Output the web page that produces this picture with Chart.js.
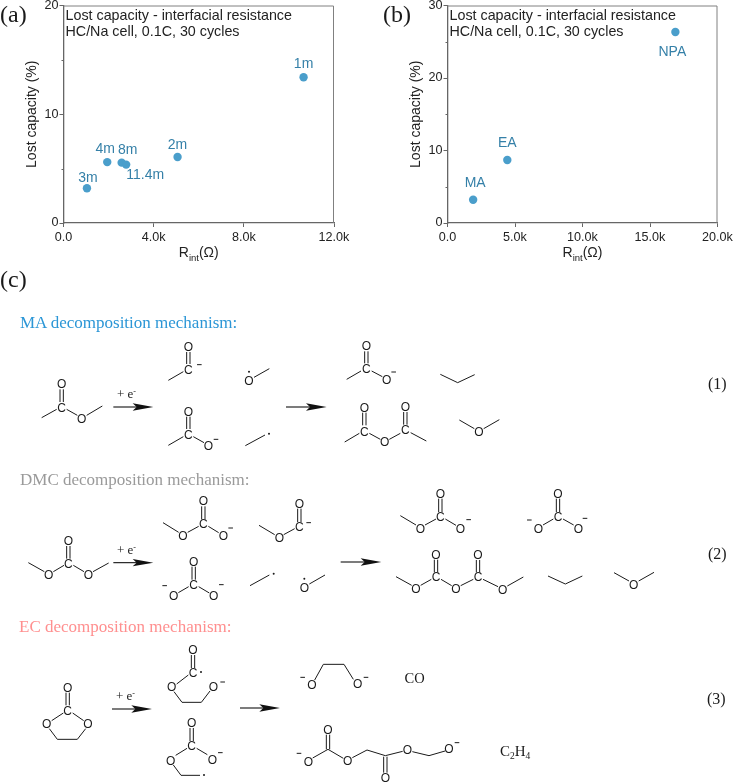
<!DOCTYPE html>
<html>
<head>
<meta charset="utf-8">
<title>Lost capacity - interfacial resistance</title>
<script src="https://cdn.jsdelivr.net/npm/chart.js@4"></script>
<style>
  html, body { margin: 0; padding: 0; background: #fff; }
  #page { position: relative; width: 734px; height: 782px; overflow: hidden; }
  canvas { position: absolute; top: 0; }
  #scheme { position: absolute; left: 0; top: 0; }
  #scheme text { font-family: "Liberation Sans", Arial, sans-serif; fill: #1a1a1a; }
  #scheme text.serif { font-family: "Liberation Serif", "Times New Roman", serif; }
</style>
</head>
<body>
<div id="page">
  <canvas id="chartA" width="367" height="270" style="left:0"></canvas>
  <canvas id="chartB" width="367" height="270" style="left:367px"></canvas>
  <svg id="scheme" width="734" height="782" xmlns="http://www.w3.org/2000/svg"></svg>
</div>
<script>
// panel (a)
const labelsA = ["1m", "2m", "3m", "4m", "8m", "11.4m"];
const rintA = [10650, 5060, 1040, 1940, 2580, 2780];
const lostA = [13.4, 6.07, 3.2, 5.6, 5.55, 5.37];
const xTicksA = [0, 4000, 8000, 12000];
const yTicksA = [0, 10, 20];

// panel (b)
const labelsB = ["MA", "EA", "NPA"];
const rintB = [1900, 4430, 16880];
const lostB = [3.2, 8.7, 26.35];
const xTicksB = [0, 5000, 10000, 15000, 20000];
const yTicksB = [0, 10, 20, 30];

const BLUE = "#4a9ecb";
const LABEL_BLUE = "#3580a8";
const AXIS = "#666666";
const TEXT = "#222222";
const SANS = '"Liberation Sans", Arial, sans-serif';

// label offsets from the point, one per point
const offsetsA = [[0, -13], [0, -12], [1, -10], [-2, -13], [6, -13], [19, 11]];
const offsetsB = [[2, -17], [0, -17], [-3, 20]];

// frame, minor ticks, point labels and the Rint title
const decorations = {
  id: "decorations",
  afterDraw(chart, args, opts) {
    const { ctx, chartArea: a, scales } = chart;
    ctx.save();
    ctx.strokeStyle = "#808080";
    ctx.lineWidth = 1;
    ctx.beginPath();
    ctx.moveTo(a.left, a.top + 0.5);
    ctx.lineTo(a.right - 0.5, a.top + 0.5);
    ctx.lineTo(a.right - 0.5, a.bottom);
    ctx.stroke();

    ctx.strokeStyle = AXIS;
    ctx.beginPath();
    opts.minorY.forEach(v => {
      const y = Math.round(scales.y.getPixelForValue(v)) + 0.5;
      ctx.moveTo(a.left, y);
      ctx.lineTo(a.left - 2, y);
    });
    ctx.stroke();

    ctx.fillStyle = TEXT;
    ctx.font = "14.3px " + SANS;
    ctx.textBaseline = "alphabetic";
    ctx.textAlign = "left";
    ctx.fillText("Lost capacity - interfacial resistance", a.left + 2, 20);
    ctx.fillText("HC/Na cell, 0.1C, 30 cycles", a.left + 2, 36);

    ctx.font = "14px " + SANS;
    ctx.textAlign = "center";
    ctx.textBaseline = "middle";
    ctx.fillStyle = LABEL_BLUE;
    const meta = chart.getDatasetMeta(0);
    meta.data.forEach((pt, i) => {
      ctx.fillText(opts.labels[i], pt.x + opts.offsets[i][0], pt.y + opts.offsets[i][1]);
    });

    // x axis title, has a subscript so it is done by hand
    const cx = (a.left + a.right) / 2;
    const by = a.bottom + 34;
    ctx.fillStyle = TEXT;
    ctx.textAlign = "left";
    ctx.textBaseline = "alphabetic";
    ctx.font = "14px " + SANS;
    const rW = ctx.measureText("R").width;
    const oW = ctx.measureText("(Ω)").width;
    ctx.font = "9.5px " + SANS;
    const iW = ctx.measureText("int").width;
    let x = cx - (rW + iW + oW) / 2;
    ctx.font = "14px " + SANS;
    ctx.fillText("R", x, by);
    ctx.font = "9.5px " + SANS;
    ctx.fillText("int", x + rW, by + 4);
    ctx.font = "14px " + SANS;
    ctx.fillText("(Ω)", x + rW + iW, by);
    ctx.restore();
  }
};

function fmtK(v) {
  return v === 0 ? "0.0" : (v / 1000).toFixed(1) + "k";
}

function makeChart(id, xs, ys, labels, offsets, xTicks, yTicks, minorY, pad) {
  new Chart(document.getElementById(id), {
    type: "scatter",
    data: {
      datasets: [{
        data: xs.map((x, i) => ({ x: x, y: ys[i] })),
        backgroundColor: BLUE,
        borderColor: BLUE,
        borderWidth: 0,
        pointRadius: 4.2,
        pointHoverRadius: 4.2
      }]
    },
    options: {
      responsive: false,
      animation: false,
      layout: { padding: pad },
      plugins: {
        legend: { display: false },
        tooltip: { enabled: false },
        decorations: { labels: labels, offsets: offsets, minorY: minorY }
      },
      scales: {
        x: {
          type: "linear",
          min: xTicks[0],
          max: xTicks[xTicks.length - 1],
          afterBuildTicks: s => { s.ticks = xTicks.map(v => ({ value: v })); },
          afterFit: s => { s.height = 47; s.paddingLeft = 0; s.paddingRight = 0; },
          grid: { drawOnChartArea: false, tickLength: 4, tickColor: AXIS, tickWidth: 1 },
          border: { color: AXIS, width: 1.3 },
          ticks: {
            callback: fmtK,
            color: TEXT,
            font: { family: SANS, size: 12.6 },
            padding: 3,
            maxRotation: 0,
            autoSkip: false
          }
        },
        y: {
          type: "linear",
          min: yTicks[0],
          max: yTicks[yTicks.length - 1],
          afterBuildTicks: s => { s.ticks = yTicks.map(v => ({ value: v })); },
          afterFit: s => { s.width = pad.axis; s.paddingTop = 0; s.paddingBottom = 0; },
          title: {
            display: true,
            text: "Lost capacity (%)",
            color: TEXT,
            font: { family: SANS, size: 14 },
            padding: 0
          },
          grid: { drawOnChartArea: false, tickLength: 4, tickColor: AXIS, tickWidth: 1 },
          border: { color: AXIS, width: 1.3 },
          ticks: {
            color: TEXT,
            font: { family: SANS, size: 12.6 },
            padding: 1
          }
        }
      }
    },
    plugins: [decorations]
  });
}

makeChart("chartA", rintA, lostA, labelsA, offsetsA, xTicksA, yTicksA, [5, 15],
  { left: 23.6, right: 33, top: 5.5, bottom: 0, axis: 39.9 });
makeChart("chartB", rintB, lostB, labelsB, offsetsB, xTicksB, yTicksB, [5, 15, 25],
  { left: 40.6, right: 16.5, top: 5.5, bottom: 0, axis: 39.9 });

// ---- reaction scheme (c), not chart data. coordinates are in 3x crop units ----
const svg = document.getElementById("scheme");
const NS = "http://www.w3.org/2000/svg";

function add(tag, attrs, txt) {
  const el = document.createElementNS(NS, tag);
  Object.keys(attrs).forEach(k => el.setAttribute(k, attrs[k]));
  if (txt) el.textContent = txt;
  svg.appendChild(el);
  return el;
}

// bonds: polylines in crop units, atoms: [x, y, letter], minus: [x, y], dots: [x, y]
function mol(ox, oy, m) {
  const px = v => ox + v / 3;
  const py = v => oy + v / 3;
  (m.b || []).forEach(line => {
    const pts = [];
    for (let i = 0; i < line.length; i += 2) pts.push(px(line[i]) + "," + py(line[i + 1]));
    add("polyline", { points: pts.join(" "), fill: "none", stroke: "#1a1a1a", "stroke-width": 1 });
  });
  (m.a || []).forEach(t => {
    add("text", { x: px(t[0]), y: py(t[1]) + 4.3, "text-anchor": "middle", "font-size": 12 }, t[2]);
  });
  (m.n || []).forEach(t => {
    add("line", { x1: px(t[0]) - 2.3, x2: px(t[0]) + 2.3, y1: py(t[1]), y2: py(t[1]), stroke: "#1a1a1a", "stroke-width": 1 });
  });
  (m.d || []).forEach(t => {
    add("circle", { cx: px(t[0]), cy: py(t[1]), r: 1, fill: "#1a1a1a" });
  });
}

// vertical C=O from carbon at (x, y) up to oxygen at y2
function dbl(x, y1, y2) {
  return [[x - 5, y1, x - 5, y2], [x + 5, y1, x + 5, y2]];
}

function arrow(ox, oy, x1, x2, y) {
  const X = v => ox + v / 3;
  const Y = v => oy + v / 3;
  add("line", { x1: X(x1), x2: X(x2 - 40), y1: Y(y), y2: Y(y), stroke: "#111", "stroke-width": 1.1 });
  const p = [[x2, y], [x2 - 62, y - 11], [x2 - 50, y], [x2 - 62, y + 11]];
  add("polygon", { points: p.map(q => X(q[0]) + "," + Y(q[1])).join(" "), fill: "#111" });
}

function serif(x, y, size, s, color) {
  return add("text", { x: x, y: y, class: "serif", "font-size": size, style: color ? "fill:" + color : "" }, s);
}

function plusE(x, y) {
  const t = serif(x, y, 13, "+ e");
  const sup = document.createElementNS(NS, "tspan");
  sup.setAttribute("dy", "-4");
  sup.setAttribute("font-size", "8");
  sup.textContent = "-";
  t.appendChild(sup);
}

// panel letters
serif(0, 22, 24, "(a)");
serif(383, 22, 24, "(b)");
serif(0, 287, 24, "(c)");

// headings
serif(20, 327.5, 17, "MA decomposition mechanism:", "#2b96d6");
serif(20, 484.5, 17, "DMC decomposition mechanism:", "#9a9a9a");
serif(19, 631.5, 17, "EC decomposition mechanism:", "#ff8f8f");

// MA row
mol(0, 270, {
  b: [[125, 443, 170, 418], ...dbl(185, 358, 396), [200, 418, 232, 436], [260, 436, 307, 408],
      [505, 331, 550, 305], ...dbl(565, 246, 282),
      [762, 322, 808, 296],
      [505, 526, 550, 500], ...dbl(565, 440, 477), [580, 500, 612, 518],
      [736, 527, 795, 495],
      [1040, 328, 1083, 303], ...dbl(1099, 244, 280), [1115, 303, 1147, 320],
      [1321, 313, 1373, 338, 1424, 314],
      [1034, 516, 1078, 490], ...dbl(1093, 428, 466), [1108, 490, 1141, 508], [1168, 508, 1201, 490],
      ...dbl(1216, 426, 464), [1232, 488, 1279, 513],
      [1378, 450, 1423, 476], [1451, 476, 1498, 449]],
  a: [[185, 412, "C"], [185, 342, "O"], [245, 446, "O"],
      [565, 298, "C"], [565, 230, "O"], [747, 333, "O"],
      [565, 493, "C"], [565, 424, "O"], [625, 527, "O"],
      [1099, 296, "C"], [1099, 228, "O"], [1160, 330, "O"],
      [1093, 484, "C"], [1093, 412, "O"], [1154, 516, "O"], [1216, 480, "C"], [1216, 410, "O"],
      [1437, 486, "O"]],
  n: [[598, 284], [648, 508], [1181, 306]],
  d: [[747, 305], [807, 491]]
});
arrow(0, 270, 340, 460, 411);
arrow(0, 270, 858, 980, 411);
plusE(117, 398);
serif(708, 389, 16, "(1)");

// DMC row
mol(0, 460, {
  b: [[85, 308, 133, 335], [160, 335, 192, 316], ...dbl(205, 258, 296), [220, 316, 252, 335], [279, 335, 326, 309],
      [489, 188, 536, 217], [563, 217, 596, 199], ...dbl(610, 139, 178), [625, 199, 656, 218],
      [777, 196, 824, 224], [851, 224, 884, 206], ...dbl(898, 146, 186),
      [535, 398, 566, 380], ...dbl(581, 320, 359), [596, 380, 628, 399],
      [750, 377, 808, 345],
      [928, 372, 975, 345],
      [1201, 167, 1248, 195], [1275, 195, 1308, 177], ...dbl(1321, 116, 156), [1336, 177, 1368, 196],
      [1629, 195, 1660, 177], ...dbl(1674, 116, 156), [1689, 177, 1721, 195],
      [1188, 350, 1235, 376], [1262, 376, 1294, 358], ...dbl(1308, 299, 337), [1323, 358, 1355, 377],
      [1382, 377, 1420, 358], ...dbl(1434, 300, 337), [1449, 358, 1494, 380], [1522, 378, 1570, 351],
      [1644, 348, 1696, 372, 1747, 348],
      [1842, 338, 1887, 363], [1916, 363, 1962, 337]],
  a: [[146, 345, "O"], [205, 310, "C"], [205, 242, "O"], [265, 345, "O"],
      [549, 227, "O"], [610, 192, "C"], [610, 123, "O"], [670, 228, "O"],
      [838, 234, "O"], [898, 200, "C"], [898, 130, "O"],
      [521, 408, "O"], [581, 373, "C"], [581, 304, "O"], [641, 408, "O"],
      [913, 383, "O"],
      [1261, 205, "O"], [1321, 170, "C"], [1321, 100, "O"], [1381, 205, "O"],
      [1615, 205, "O"], [1674, 170, "C"], [1674, 100, "O"], [1735, 205, "O"],
      [1248, 386, "O"], [1308, 351, "C"], [1308, 283, "O"], [1368, 386, "O"],
      [1434, 351, "C"], [1434, 284, "O"], [1508, 388, "O"],
      [1901, 373, "O"]],
  n: [[692, 204], [926, 188], [494, 377], [664, 374], [1406, 179], [1588, 180], [1755, 175]],
  d: [[821, 341], [913, 356]]
});
arrow(0, 460, 340, 460, 308);
arrow(0, 460, 1022, 1144, 306);
plusE(117, 554);
serif(708, 559, 16, "(2)");

// EC row
mol(0, 610, {
  b: [...dbl(203, 248, 286), [190, 309, 155, 332], [218, 309, 251, 332], [148, 356, 172, 388, 232, 388, 257, 356],
      ...dbl(579, 135, 174), [565, 195, 530, 222], [522, 245, 546, 277, 604, 277, 630, 243],
      ...dbl(575, 354, 393), [561, 415, 527, 436], [520, 465, 543, 496, 600, 496], [590, 415, 622, 434],
      [944, 210, 970, 163, 1032, 163, 1060, 208],
      [938, 444, 984, 418, 1030, 445], ...dbl(984, 374, 418),
      [1057, 443, 1101, 420, 1156, 437, 1208, 424], [1151, 440, 1151, 488], [1161, 440, 1161, 488],
      [1237, 425, 1287, 437, 1335, 423]],
  a: [[203, 301, "C"], [203, 232, "O"], [140, 342, "O"], [264, 342, "O"],
      [579, 188, "C"], [579, 119, "O"], [515, 231, "O"], [640, 229, "O"],
      [575, 407, "C"], [575, 338, "O"], [512, 451, "O"], [637, 449, "O"],
      [936, 225, "O"], [1073, 222, "O"],
      [984, 358, "O"], [925, 454, "O"], [1043, 453, "O"], [1156, 502, "O"], [1222, 418, "O"], [1347, 417, "O"]],
  n: [[668, 216], [661, 428], [908, 202], [1098, 202], [897, 430], [1371, 398]],
  d: [[603, 186], [612, 495]]
});
arrow(0, 610, 336, 456, 297);
arrow(0, 610, 720, 840, 294);
plusE(116, 700);
serif(404.5, 683, 14.5, "CO");
const c2h4 = serif(500, 756, 15, "C");
[["2", 3, 9.5], ["H", -3, 15], ["4", 3, 9.5]].forEach(p => {
  const s = document.createElementNS(NS, "tspan");
  s.setAttribute("dy", p[0] === "H" ? -3 : 3);
  s.setAttribute("font-size", p[2]);
  s.textContent = p[0];
  c2h4.appendChild(s);
});
serif(707, 704, 16, "(3)");
</script>
</body>
</html>
